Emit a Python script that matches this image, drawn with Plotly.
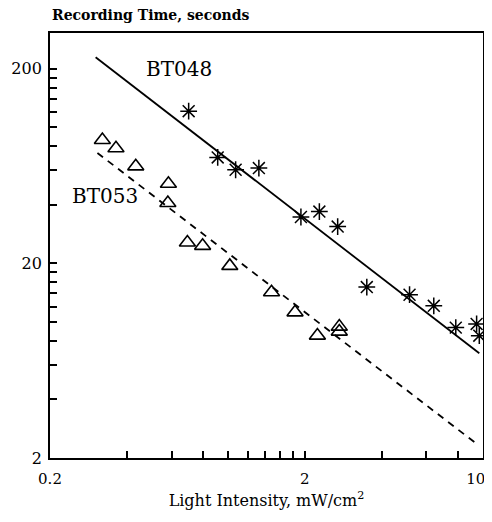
import numpy as np
import plotly.graph_objects as go

# BT048 (asterisks)
bt048_x = [0.70, 0.91, 1.07, 1.32, 1.93, 2.28, 2.69, 3.50, 5.15, 6.41, 7.82, 9.44, 9.67]
bt048_y = [121, 70, 60.5, 61.7, 34.6, 36.9, 30.9, 15.1, 13.8, 12.1, 9.35, 9.77, 8.5]
# BT053 (triangles)
bt053_x = [0.321, 0.363, 0.434, 0.583, 0.580, 0.692, 0.794, 1.015, 1.48, 1.83, 2.24, 2.73, 2.73]
bt053_y = [86, 78, 63, 51.3, 40.8, 25.6, 24.6, 19.4, 14.2, 11.2, 8.51, 9.46, 8.92]
# fitted lines (end points)
fit048_x = [0.302, 9.67]
fit048_y = [229, 6.9]
fit053_x = [0.307, 9.58]
fit053_y = [73.8, 2.33]

x_tickvals = [0.2, 0.4, 0.6, 0.8, 1.0, 1.2, 1.4, 1.6, 1.8, 2, 4, 6, 8, 10]
x_ticktext = ["0.2"] + [" "] * 8 + ["2", " ", " ", " ", "10\u00a0\u00a0\u00a0"]
y_tickvals = [2, 4, 6, 8, 10, 12, 14, 16, 18, 20, 40, 60, 80, 100, 120, 140, 160, 180, 200]
y_ticktext = ["2"] + [" "] * 8 + ["20"] + [" "] * 8 + ["200"]

FONT = "DejaVu Serif"

fig = go.Figure()
fig.add_trace(go.Scatter(x=fit048_x, y=fit048_y, mode="lines",
                         line=dict(color="black", width=1.8), showlegend=False))
fig.add_trace(go.Scatter(x=fit053_x, y=fit053_y, mode="lines",
                         line=dict(color="black", width=1.8, dash="7px,6px"), showlegend=False))
fig.add_trace(go.Scatter(x=bt048_x, y=bt048_y, mode="markers",
                         marker=dict(symbol="asterisk-open", size=14, color="black",
                                     line=dict(color="black", width=1.5)),
                         showlegend=False))
fig.add_trace(go.Scatter(x=bt053_x, y=bt053_y, mode="markers",
                         marker=dict(symbol="triangle-up-open", size=14, color="black",
                                     line=dict(color="black", width=1.6)),
                         showlegend=False))

fig.add_annotation(x=np.log10(0.64), y=np.log10(200), xref="x", yref="y", text="BT048",
                   showarrow=False, font=dict(family=FONT, size=20, color="black"))
fig.add_annotation(x=np.log10(0.329), y=np.log10(44.5), xref="x", yref="y", text="BT053",
                   showarrow=False, font=dict(family=FONT, size=20, color="black"))
fig.add_annotation(x=0, y=1, xref="paper", yref="paper", xanchor="left", yanchor="bottom",
                   yshift=8, text="<b>Recording Time, seconds</b>", showarrow=False,
                   font=dict(family=FONT, size=14, color="black"))

fig.update_xaxes(type="log", range=[np.log10(0.2), np.log10(10)], tickmode="array",
                 tickvals=x_tickvals, ticktext=x_ticktext, ticks="inside", ticklen=7,
                 tickwidth=1.5, tickcolor="black", showline=True, linecolor="black",
                 linewidth=1.8, mirror=True, showgrid=False, zeroline=False, automargin=False,
                 ticklabelstandoff=6, ticklabeloverflow="allow",
                 tickfont=dict(family=FONT, size=15, color="black"),
                 title=dict(text="Light Intensity, mW/cm<sup>2</sup>",
                            font=dict(family=FONT, size=16, color="black"), standoff=8))
fig.update_yaxes(type="log", range=[np.log10(2), np.log10(305)], tickmode="array",
                 tickvals=y_tickvals, ticktext=y_ticktext, ticks="inside", ticklen=7,
                 tickwidth=1.5, tickcolor="black", showline=True, linecolor="black",
                 linewidth=1.8, mirror=True, showgrid=False, zeroline=False, automargin=False,
                 ticklabelstandoff=3, ticklabeloverflow="allow",
                 tickfont=dict(family=FONT, size=16, color="black"))

# page body has an 8px margin, so the figure is sized to fit the 492x522 window
fig.update_layout(width=484, height=506, plot_bgcolor="white", paper_bgcolor="white",
                  margin=dict(l=42, r=9, t=25, b=56), showlegend=False)

fig.write_html("out.html")
